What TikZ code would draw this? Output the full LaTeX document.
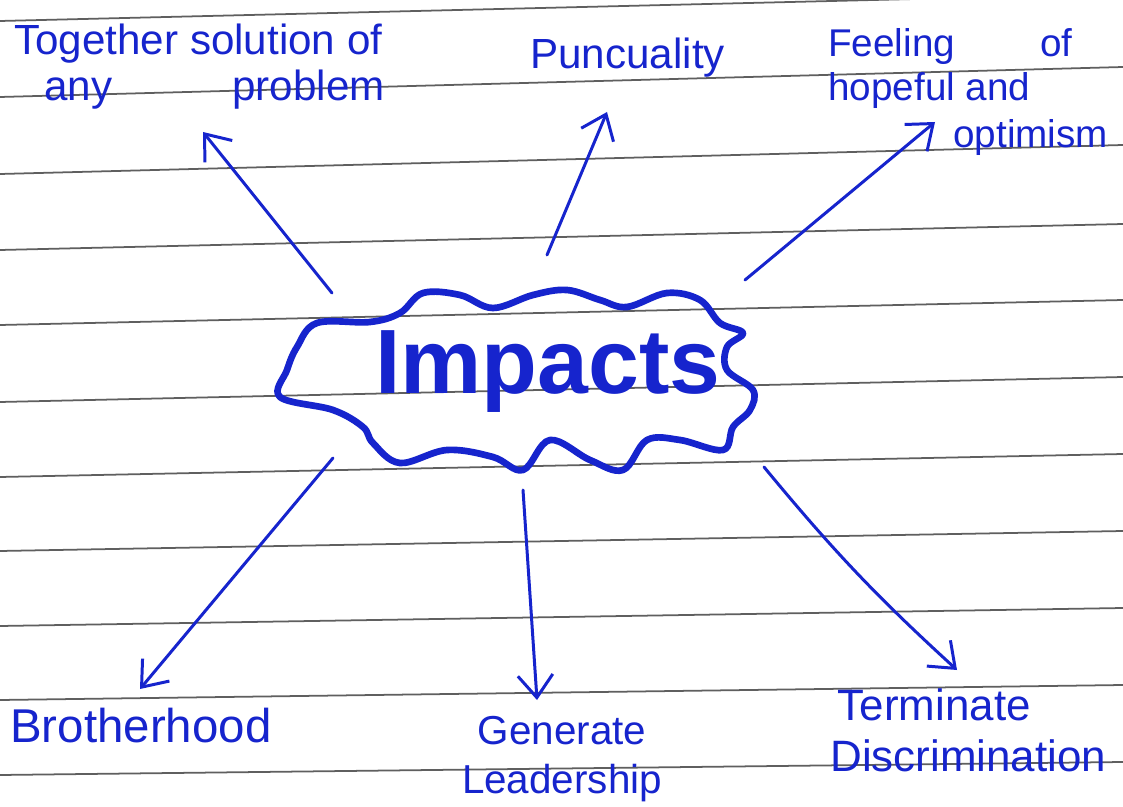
\documentclass[tikz,border=0pt]{standalone}
\usepackage{fontspec}
\setmainfont{Liberation Sans}
\usetikzlibrary{arrows.meta}
\definecolor{pen}{RGB}{22,36,205}
\definecolor{ruling}{RGB}{95,95,95}
\tikzset{
  rule/.style={ruling, line width=1pt},
  cloudline/.style={pen, line width=3.8pt, line join=round},
  arr/.style={pen, line width=1.7pt, line cap=round, -{Straight Barb[length=4.5mm,width=7mm,line width=1.7pt]}},
  lbl/.style={text=pen, font=\fontsize{24}{29}\selectfont, inner sep=0pt}
}
\begin{document}
\begin{tikzpicture}[x=0.02cm, y=-0.02cm]
\useasboundingbox (0,0) rectangle (1123,807);
\fill[white] (0,0) rectangle (1123,807);
% ruled paper
\foreach \l/\r in {21/-6, 97/67, 174/145, 250/224, 325/300, 402/377, 477/454, 551/531, 626/608, 700/685, 775/762}
  \draw[rule] (0,\l) -- (1123,\r);

% the cloud
\draw[cloudline] plot[smooth cycle, tension=0.6] coordinates {
  (317,323) (370,322) (400,313) (423,293) (460,295) (493,308) (533,295) (567,290)
  (600,300) (627,307) (667,293) (700,300) (720,323) (743,333) (727,347) (727,370)
  (753,390) (750,410) (733,427) (723,450) (680,440) (647,440) (623,470) (590,460)
  (550,440) (523,470) (493,457) (447,450) (400,463) (373,443) (363,427) (333,410)
  (280,397) (287,370) (297,347)};

         \node [text=pen, font=\fontsize{52}{56}\selectfont\bfseries, inner sep=0pt] (imp) at (548,372) {Impacts};

         \node [lbl, align=left, anchor=north west] (tog)  at (14,24)    {Together solution of\\[-3pt]\hspace{0.6cm}any\hspace{2.4cm}problem};
  		 \node [lbl, anchor=north west] (pun)  at (530,38)    {Puncuality};
  		 \node [lbl, align=left, anchor=north west, font=\fontsize{22}{27}\selectfont] (feel) at (828,28)   {Feeling\hspace{1.7cm}of\\[-2pt]hopeful and\\[0pt]\hspace{2.5cm}optimism};
  		 \node [lbl, anchor=north west, font=\fontsize{27}{30}\selectfont] (bro)  at (10,708)   {Brotherhood};
  		 \node [lbl, align=center, anchor=north, font=\fontsize{23}{28}\selectfont] (gen)  at (562,716)  {Generate\\[0pt]Leadership};
  		 \node [lbl, align=left, anchor=north west, font=\fontsize{25}{29}\selectfont] (term) at (830,688)  {\hspace{0.15cm}Terminate\\[0pt]Discrimination};

  		 \coordinate (nw0) at (332,293);  \coordinate (nw1) at (203,132);
  		 \coordinate (n0)  at (547,255);  \coordinate (n1)  at (607,112);
  		 \coordinate (ne0) at (745,280);  \coordinate (ne1) at (935,122);
  		 \coordinate (sw0) at (333,458);  \coordinate (sw1) at (140,689);
  		 \coordinate (s0)  at (523,490);  \coordinate (s1)  at (537,700);
  		 \coordinate (se0) at (764,467);  \coordinate (se1) at (957,670);

  		 \draw [arr] (nw0) -- (nw1);
  		 \draw [arr] (n0) -- (n1);
  		 \draw [arr] (ne0) -- (ne1);
  		 \draw [arr] (sw0) -- (sw1);
  		 \draw [arr] (s0) -- (s1);
  		 \draw [arr] (se0) to [bend right=4] (se1);
\end{tikzpicture}
\end{document}
